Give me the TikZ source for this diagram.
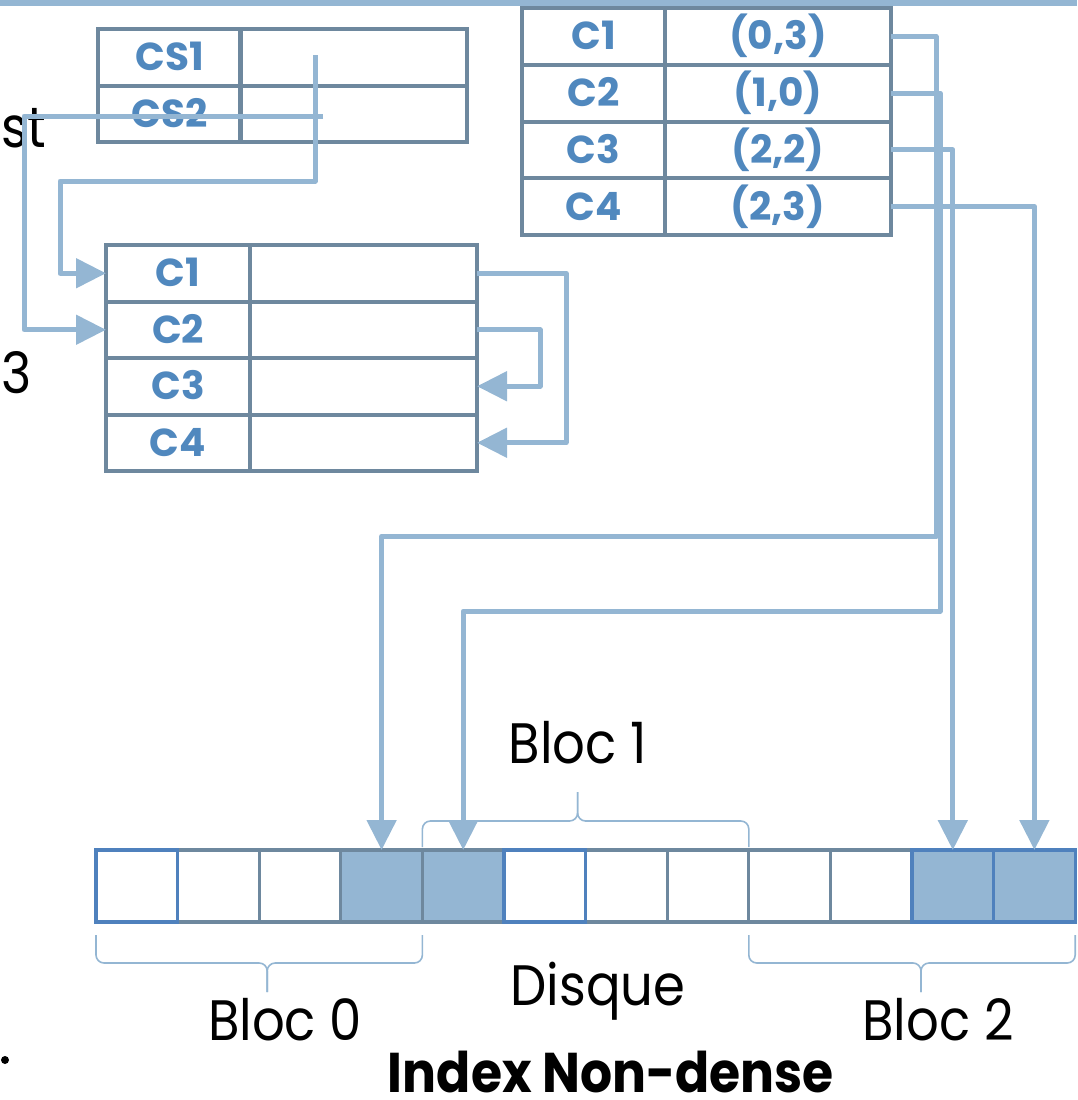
\documentclass[tikz,border=0pt]{standalone}
\usepackage{fontspec}
\setmainfont{Poppins}[FakeStretch=0.9]
\newfontfamily\cellfont{Poppins}
\usetikzlibrary{arrows.meta,calc}

\definecolor{linkblue}{HTML}{94B6D3}
\definecolor{gridgray}{HTML}{6E889E}
\definecolor{textblue}{HTML}{5088BE}
\definecolor{edgeblue}{HTML}{4F81BD}

\tikzset{
  cell/.style={draw=gridgray, line width=4pt, anchor=north west, inner sep=0pt, outer sep=0pt,
    font=\cellfont\bfseries\fontsize{39}{39}\selectfont, text=textblue,
    text height=27pt, text depth=0pt},
  keycol/.style={cell, minimum width=143pt},
  valcol/.style={cell, minimum width=227pt},
  diskcell/.style={draw=gridgray, line width=3.2pt, anchor=north west, inner sep=0pt, outer sep=0pt,
    minimum width=81.6pt, minimum height=72pt},
  used/.style={fill=linkblue},
  blueedge/.style={draw=edgeblue},
  conn/.style={draw=linkblue, line width=5pt, line join=round,
    -{Triangle[length=30pt,width=29pt]}},
  bracket/.style={draw=linkblue, line width=1.6pt, rounded corners=8pt},
  lbl/.style={anchor=base, inner sep=0pt, font=\fontsize{57}{57}\selectfont},
}

\begin{document}
\begin{tikzpicture}[x=1pt,y=-1pt]
\useasboundingbox (0,0) rectangle (1077,1100);

% rule along the top edge
\fill[linkblue] (0,0) rectangle (1077,6);

% fragments of the surrounding text
\node[anchor=base west, inner sep=0pt, font=\fontsize{57}{57}\selectfont] (st) at (1,147) {st};
\node[anchor=base west, inner sep=0pt, font=\fontsize{57}{57}\selectfont] (three) at (1,393) {3};
\fill (5,1060) circle (4pt);

% table of secondary keys
\node[keycol, minimum height=56.5pt] (cs1k) at (98,29) {CS1};
\node[valcol, minimum height=56.5pt, minimum width=227pt] (cs1v) at (240,29) {};
\node[keycol, minimum height=56.5pt] (cs2k) at (98,85.5) {CS2};
\node[valcol, minimum height=56.5pt] (cs2v) at (240,85.5) {};

% table of keys with block addresses
\node[keycol, minimum height=56.75pt] (tc1k) at (522,8) {C1};
\node[valcol, minimum height=56.75pt, minimum width=226pt] (tc1v) at (665,8) {(0,3)};
\node[keycol, minimum height=56.75pt] (tc2k) at (522,64.75) {C2};
\node[valcol, minimum height=56.75pt, minimum width=226pt] (tc2v) at (665,64.75) {(1,0)};
\node[keycol, minimum height=56.75pt] (tc3k) at (522,121.5) {C3};
\node[valcol, minimum height=56.75pt, minimum width=226pt] (tc3v) at (665,121.5) {(2,2)};
\node[keycol, minimum height=56.75pt] (tc4k) at (522,178.25) {C4};
\node[valcol, minimum height=56.75pt, minimum width=226pt] (tc4v) at (665,178.25) {(2,3)};

% table of keys with chaining
\node[keycol, minimum height=56.5pt, minimum width=144pt] (mc1k) at (106,245) {C1};
\node[valcol, minimum height=56.5pt] (mc1v) at (250,245) {};
\node[keycol, minimum height=56.5pt, minimum width=144pt] (mc2k) at (106,301.5) {C2};
\node[valcol, minimum height=56.5pt] (mc2v) at (250,301.5) {};
\node[keycol, minimum height=56.5pt, minimum width=144pt] (mc3k) at (106,358) {C3};
\node[valcol, minimum height=56.5pt] (mc3v) at (250,358) {};
\node[keycol, minimum height=56.5pt, minimum width=144pt] (mc4k) at (106,414.5) {C4};
\node[valcol, minimum height=56.5pt] (mc4v) at (250,414.5) {};

% disk blocks
\node[diskcell] (d1) at (177.6,850) {};
\node[diskcell] (d2) at (259.2,850) {};
\node[diskcell, used] (d3) at (340.8,850) {};
\node[diskcell, used] (d4) at (422.4,850) {};
\node[diskcell] (d6) at (585.6,850) {};
\node[diskcell] (d7) at (667.2,850) {};
\node[diskcell] (d8) at (748.8,850) {};
\node[diskcell] (d9) at (830.4,850) {};
\node[diskcell, blueedge] (d0) at (96,850) {};
\node[diskcell, blueedge] (d5) at (504,850) {};
\node[diskcell, used, blueedge] (d10) at (912,850) {};
\node[diskcell, used, blueedge] (d11) at (993.6,850) {};

% braces: each is two halves meeting at the tip
\coordinate (b1l) at ([yshift=3pt]d4.north west);
\coordinate (b1r) at ([yshift=3pt]d7.north east);
\coordinate (b1t) at ([xshift=-8pt, yshift=58pt]d6.north west);
\draw[bracket] (b1l) -- ++(0,-26) -| (b1t);
\draw[bracket] (b1r) -- ++(0,-26) -| (b1t);

\coordinate (b0l) at ([yshift=-13pt]d0.south west);
\coordinate (b0r) at ([yshift=-13pt]d3.south east);
\coordinate (b0t) at ([xshift=8pt, yshift=-70pt]d2.south west);
\draw[bracket] (b0l) -- ++(0,28) -| (b0t);
\draw[bracket] (b0r) -- ++(0,28) -| (b0t);

\coordinate (b2l) at ([yshift=-13pt]d8.south west);
\coordinate (b2r) at ([yshift=-13pt]d11.south east);
\coordinate (b2t) at ([xshift=9pt, yshift=-70pt]d10.south west);
\draw[bracket] (b2l) -- ++(0,28) -| (b2t);
\draw[bracket] (b2r) -- ++(0,28) -| (b2t);

\node[lbl] (bloc1) at (578,763) {Bloc 1};
\node[lbl] (disque) at (598,1005) {Disque};
\node[lbl] (bloc0) at (285,1040) {Bloc 0};
\node[lbl] (bloc2) at (938,1040) {Bloc 2};
\node[lbl, text depth=0pt, font=\bfseries\fontsize{56}{56}\selectfont] (title) at (611,1092) {Index Non-dense};

% pointers from the secondary keys into the chained table
\coordinate (p1) at (315,55);
\coordinate (p2) at (323,116);
\draw[conn] (p1) |- ++(-255,126) |- (mc1k.west);
\draw[conn] (p2) -- ++(-299,0) |- (mc2k.west);

% chaining inside the table
\draw[conn] (mc1v.east) -- ++(89,0) |- (mc4v.east);
\draw[conn] (mc2v.east) -- ++(63,0) |- (mc3v.east);

% block addresses pointing to the disk
\draw[conn] (tc1v.east) -- ++(45,0) -- ++(0,500) -| (d3.north);
\draw[conn] (tc2v.east) -- ++(49,0) -- ++(0,518) -| (d4.north);
\draw[conn] (tc3v.east) -| (d10.north);
\draw[conn] (tc4v.east) -| (d11.north);
\end{tikzpicture}
\end{document}
